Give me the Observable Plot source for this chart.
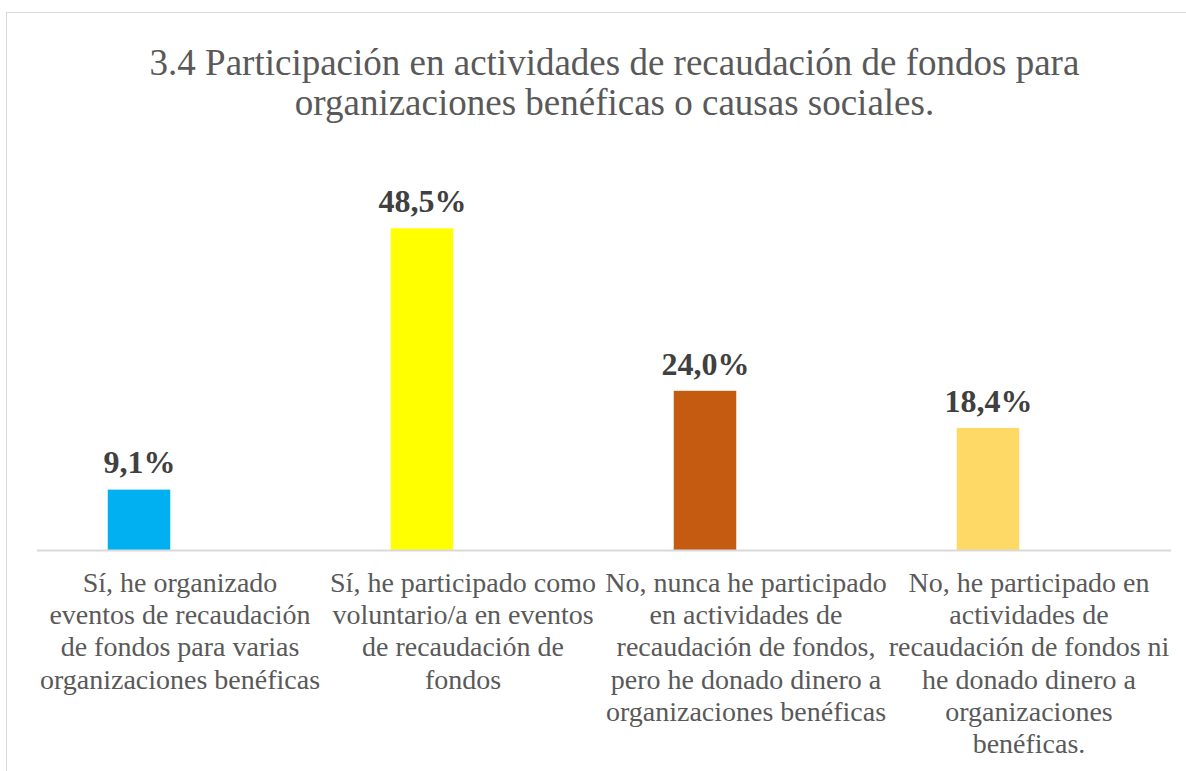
<!DOCTYPE html>
<html>
<head>
<meta charset="utf-8">
<script src="https://cdn.jsdelivr.net/npm/d3@7"></script>
<script src="https://cdn.jsdelivr.net/npm/@observablehq/plot@0.6"></script>
<style>
  html, body { margin: 0; padding: 0; background: #fff; overflow: hidden; font-family: 'Times New Roman', 'Liberation Serif', Tinos, serif; }
  #frame { position: absolute; left: 6px; top: 12px; width: 1300px; height: 900px; border: 1px solid #d9d9d9; box-sizing: border-box; z-index: 2; pointer-events: none; }
  #wrap { position: absolute; left: 0; top: 0; width: 1186px; }
  #title { height: 140px; box-sizing: border-box; padding-top: 43px; padding-left: 43px; text-align: center;
    font-size: 37px; line-height: 40px; color: #595959; }
  #chart svg { display: block; background: transparent; }
  #chart svg text { font-family: 'Times New Roman', 'Liberation Serif', Tinos, serif !important; }
</style>
</head>
<body>
<div id="frame"></div>
<div id="wrap">
  <div id="title">3.4 Participación en actividades de recaudación de fondos para<br>organizaciones benéficas o causas sociales.</div>
  <div id="chart"></div>
</div>
<script>
const categories = [
  "Sí, he organizado\neventos de recaudación\nde fondos para varias\norganizaciones benéficas",
  "Sí, he participado como\nvoluntario/a en eventos\nde recaudación de\nfondos",
  "No, nunca he participado\nen actividades de\nrecaudación de fondos,\npero he donado dinero a\norganizaciones benéficas",
  "No, he participado en\nactividades de\nrecaudación de fondos ni\nhe donado dinero a\norganizaciones\nbenéficas."
];
const values = [9.1, 48.5, 24.0, 18.4];
const valueLabels = ["9,1%", "48,5%", "24,0%", "18,4%"];
const colors = ["#00B0F0", "#FFFF00", "#C55A11", "#FFD966"];

const data = categories.map((c, i) => ({cat: c, value: values[i], label: valueLabels[i], color: colors[i]}));

const serif = "'Times New Roman', 'Liberation Serif', Tinos, serif";

const chart = Plot.plot({
  width: 1186,
  height: 631,
  marginLeft: 37,
  marginRight: 15,
  marginTop: 12,
  marginBottom: 221,
  style: {fontFamily: serif, background: "transparent"},
  x: {domain: categories, padding: 0},
  y: {domain: [0, 60], axis: null},
  marks: [
    Plot.barY(data, {x: "cat", y: "value", fill: "color", insetLeft: 110.25, insetRight: 110.25, dx: -40.5}),
    Plot.ruleY([0], {stroke: "#d9d9d9", strokeWidth: 2}),
    Plot.text(data, {x: "cat", y: "value", text: "label", dx: -40.5, dy: -27, lineAnchor: "middle",
      fontSize: 32, fontWeight: "bold", fill: "#404040", fontFamily: serif}),
    Plot.axisX({tickSize: 0, tickPadding: 18, fontSize: 28, lineHeight: 1.157,
      fill: "#595959", label: null, fontFamily: serif, textOverflow: null, lineWidth: 100})
  ]
});
document.getElementById("chart").appendChild(chart);
</script>
</body>
</html>
